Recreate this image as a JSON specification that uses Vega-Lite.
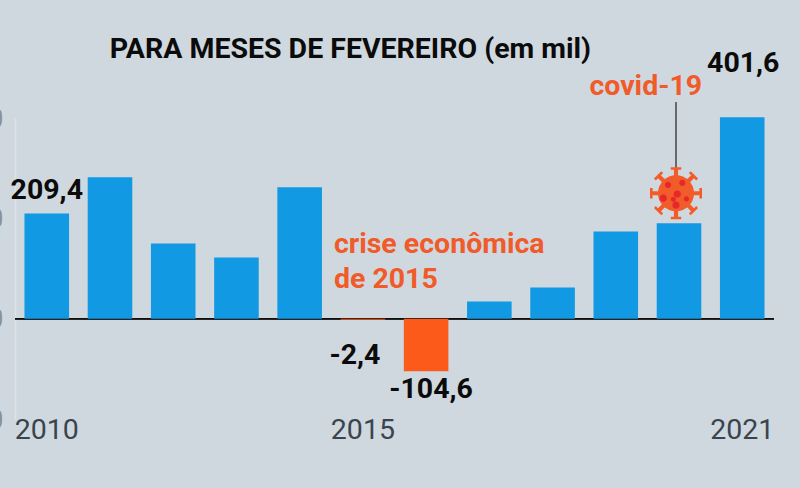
{"$schema":"https://vega.github.io/schema/vega-lite/v6.json","autosize":"none","width":759,"height":301,"padding":{"left":15,"top":118,"right":26,"bottom":69},"background":"#cfd8de","view":{"stroke":null},"config":{"font":"Roboto"},"data":{"values":[{"ano":2010,"valor":209.4,"rotulo":"209,4","tipo":"normal"},{"ano":2011,"valor":282,"rotulo":"","tipo":"normal"},{"ano":2012,"valor":150,"rotulo":"","tipo":"normal"},{"ano":2013,"valor":122,"rotulo":"","tipo":"normal"},{"ano":2014,"valor":262,"rotulo":"","tipo":"normal"},{"ano":2015,"valor":-2.4,"rotulo":"-2,4","tipo":"crise"},{"ano":2016,"valor":-104.6,"rotulo":"-104,6","tipo":"crise"},{"ano":2017,"valor":34,"rotulo":"","tipo":"normal"},{"ano":2018,"valor":62,"rotulo":"","tipo":"normal"},{"ano":2019,"valor":174,"rotulo":"","tipo":"normal"},{"ano":2020,"valor":190,"rotulo":"","tipo":"normal"},{"ano":2021,"valor":401.6,"rotulo":"401,6","tipo":"normal"}]},"encoding":{"x":{"field":"ano","type":"ordinal","scale":{"paddingInner":0.295,"paddingOuter":0.15},"axis":{"title":null,"values":[2010,2015,2021],"labelAngle":0,"domain":false,"ticks":false,"labelFont":"Roboto","labelFontSize":28.5,"labelColor":"#3a444e","labelBaseline":"middle","labelPadding":10.5}},"y":{"field":"valor","type":"quantitative","scale":{"domain":[-200,400],"nice":false,"zero":false},"axis":{"title":null,"values":[-200,0,200,400],"grid":false,"ticks":false,"domain":true,"domainColor":"#dde3e7","domainWidth":1.5,"labelFont":"Roboto","labelFontSize":28.5,"labelColor":"#8b9196","labelPadding":12,"labelBaseline":"middle"}}},"layer":[{"mark":{"type":"rule","color":"#111111","strokeWidth":1},"encoding":{"x":{},"y":{"datum":0}}},{"mark":{"type":"bar"},"encoding":{"color":{"field":"tipo","type":"nominal","legend":null,"scale":{"domain":["normal","crise"],"range":["#1199e3","#fb5a1a"]}}}},{"transform":[{"filter":"datum.ano==2012"}],"mark":{"type":"text","clip":false,"font":"Roboto","fontSize":28.5,"fontWeight":"bold","color":"#0b0b0b","align":"left","baseline":"alphabetic","dx":-63.5,"text":"PARA MESES DE FEVEREIRO (em mil)"},"encoding":{"y":{"datum":520}}},{"transform":[{"filter":"datum.ano==2010"}],"mark":{"type":"text","font":"Roboto","fontSize":28.5,"fontWeight":"bold","color":"#0b0b0b","baseline":"middle","dy":-24},"encoding":{"text":{"field":"rotulo"}}},{"transform":[{"filter":"datum.ano==2021"}],"mark":{"type":"text","font":"Roboto","fontSize":28.5,"fontWeight":"bold","color":"#0b0b0b","baseline":"middle","dy":-54,"dx":1},"encoding":{"text":{"field":"rotulo"}}},{"transform":[{"filter":"datum.ano==2015"}],"mark":{"type":"text","font":"Roboto","fontSize":28.5,"fontWeight":"bold","color":"#0b0b0b","baseline":"middle","dy":35,"dx":-8},"encoding":{"text":{"field":"rotulo"}}},{"transform":[{"filter":"datum.ano==2016"}],"mark":{"type":"text","font":"Roboto","fontSize":28.5,"fontWeight":"bold","color":"#0b0b0b","baseline":"middle","dy":18,"dx":5},"encoding":{"text":{"field":"rotulo"}}},{"transform":[{"filter":"datum.ano==2015"}],"mark":{"type":"text","font":"Roboto","fontSize":28.5,"fontWeight":"bold","color":"#f15a29","align":"left","baseline":"alphabetic","dx":-29,"lineHeight":35,"text":["crise econômica","de 2015"]},"encoding":{"y":{"datum":130}}},{"transform":[{"filter":"datum.ano==2019"}],"mark":{"type":"text","font":"Roboto","fontSize":28.5,"fontWeight":"bold","color":"#f15a29","baseline":"alphabetic","dx":30,"text":"covid-19"},"encoding":{"y":{"datum":446}}},{"transform":[{"filter":"datum.ano==2020"}],"mark":{"type":"rule","color":"#222222","strokeWidth":1.2,"xOffset":-3},"encoding":{"y":{"datum":432},"y2":{"datum":296}}},{"transform":[{"filter":"datum.ano==2020"}],"mark":{"type":"point","filled":true,"opacity":1,"color":"#f25c2a","size":2704,"xOffset":-3,"shape":"M-.08,-.6L.08,-.6L.08,-.9L.2,-.9L.2,-1L-.2,-1L-.2,-.9L-.08,-.9ZM-.08,.6L.08,.6L.08,.9L.2,.9L.2,1L-.2,1L-.2,.9L-.08,.9ZM.6,-.08L.6,.08L.9,.08L.9,.2L1,.2L1,-.2L.9,-.2L.9,-.08ZM-.6,-.08L-.6,.08L-.9,.08L-.9,.2L-1,.2L-1,-.2L-.9,-.2L-.9,-.08ZM.368,-.481L.481,-.368L.693,-.58L.778,-.495L.849,-.566L.566,-.849L.495,-.778L.58,-.693ZM-.368,-.481L-.481,-.368L-.693,-.58L-.778,-.495L-.849,-.566L-.566,-.849L-.495,-.778L-.58,-.693ZM.368,.481L.481,.368L.693,.58L.778,.495L.849,.566L.566,.849L.495,.778L.58,.693ZM-.368,.481L-.481,.368L-.693,.58L-.778,.495L-.849,.566L-.566,.849L-.495,.778L-.58,.693Z"},"encoding":{"y":{"datum":250}}},{"transform":[{"filter":"datum.ano==2020"}],"mark":{"type":"point","filled":true,"opacity":1,"color":"#f25c2a","shape":"circle","size":1296,"xOffset":-3},"encoding":{"y":{"datum":250}}},{"transform":[{"filter":"datum.ano==2020"}],"mark":{"type":"point","filled":true,"opacity":1,"color":"#e8272b","size":2704,"xOffset":-3,"shape":"M-.43,-.32A.12,.12 0 1 1 -.19,-.32A.12,.12 0 1 1 -.43,-.32ZM.12,-.4A.12,.12 0 1 1 .36,-.4A.12,.12 0 1 1 .12,-.4ZM-.63,.19A.14,.14 0 1 1 -.35,.19A.14,.14 0 1 1 -.63,.19ZM-.09,.03A.14,.14 0 1 1 .19,.03A.14,.14 0 1 1 -.09,.03ZM-.2,.23A.1,.1 0 1 1 0,.23A.1,.1 0 1 1 -.2,.23ZM.3,.22A.1,.1 0 1 1 .5,.22A.1,.1 0 1 1 .3,.22ZM-.14,.46A.14,.14 0 1 1 .14,.46A.14,.14 0 1 1 -.14,.46Z"},"encoding":{"y":{"datum":250}}}]}
